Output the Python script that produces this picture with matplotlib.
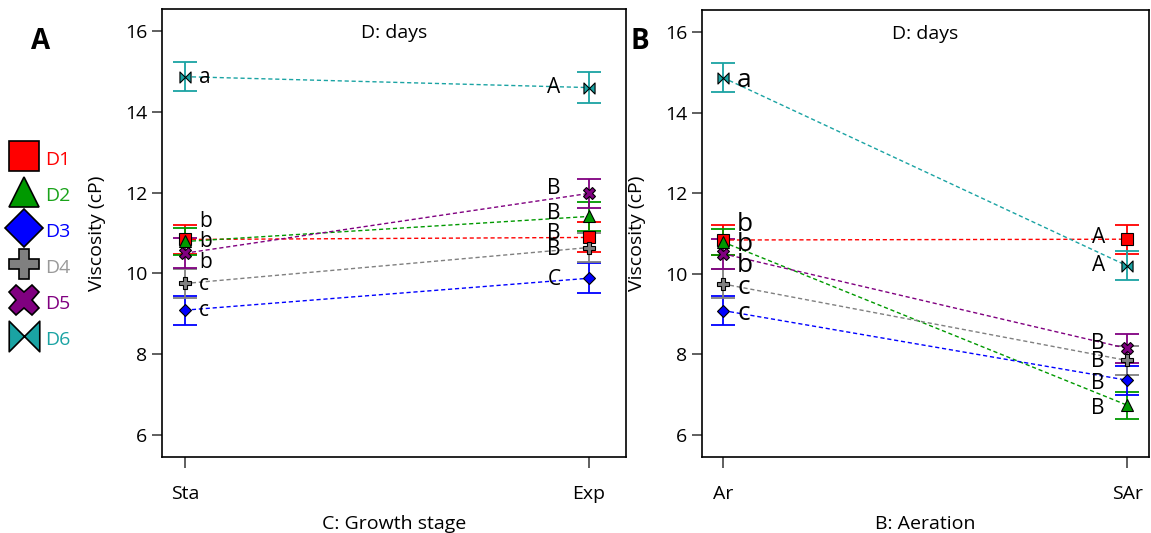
import matplotlib
matplotlib.use("Agg")
import matplotlib.pyplot as plt
import numpy as np
from matplotlib.path import Path
from matplotlib.lines import Line2D

plt.rcParams['font.family'] = ['Open Sans', 'DejaVu Sans']

series = ["D1", "D2", "D3", "D4", "D5", "D6"]
colors = ["#ff0000", "#009900", "#0000ff", "#808080", "#800080", "#1aa3a3"]
text_colors = ["#ff0000", "#1aa31a", "#0000ff", "#999999", "#800080", "#1aa3a3"]

# Panel A: growth stage
xcats_A = ["Sta", "Exp"]
vals_A = {
    "D1": [10.84, 10.89],
    "D2": [10.79, 11.41],
    "D3": [9.09, 9.88],
    "D4": [9.75, 10.64],
    "D5": [10.50, 11.98],
    "D6": [14.87, 14.60],
}
err_A = {
    "D1": [0.37, 0.37],
    "D2": [0.33, 0.36],
    "D3": [0.36, 0.37],
    "D4": [0.36, 0.36],
    "D5": [0.37, 0.36],
    "D6": [0.36, 0.38],
}
letters_A = {
    "D1": ["b", "B"], "D2": ["b", "B"], "D3": ["c", "C"],
    "D4": ["c", "B"], "D5": ["b", "B"], "D6": ["a", "A"],
}

# Panel B: aeration
xcats_B = ["Ar", "SAr"]
vals_B = {
    "D1": [10.84, 10.86],
    "D2": [10.79, 6.74],
    "D3": [9.09, 7.36],
    "D4": [9.75, 7.85],
    "D5": [10.50, 8.15],
    "D6": [14.87, 10.20],
}
err_B = {
    "D1": [0.37, 0.36],
    "D2": [0.33, 0.34],
    "D3": [0.36, 0.36],
    "D4": [0.36, 0.36],
    "D5": [0.37, 0.36],
    "D6": [0.36, 0.36],
}
letters_B = {
    "D1": ["b", "A"], "D2": ["b", "B"], "D3": ["c", "B"],
    "D4": ["c", "B"], "D5": ["b", "B"], "D6": ["a", "A"],
}

# label vertical nudges (data units) to keep letters apart
nudge_A = {"D1": [0.45, 0.1], "D2": [0.0, 0.07], "D3": [-0.02, -0.04],
           "D4": [-0.03, -0.06], "D5": [-0.24, 0.12], "D6": [-0.03, 0.0]}
nudge_B = {"D1": [0.38, 0.05], "D2": [-0.06, -0.08], "D3": [-0.08, -0.07],
           "D4": [-0.1, -0.03], "D5": [-0.3, 0.12], "D6": [-0.08, 0.0]}

bowtie = Path([(-1, 1), (-1, -1), (0, 0), (-1, 1), (1, 1), (1, -1), (0, 0), (1, 1)],
              [Path.MOVETO, Path.LINETO, Path.LINETO, Path.CLOSEPOLY,
               Path.MOVETO, Path.LINETO, Path.LINETO, Path.CLOSEPOLY])
markers = ["s", "^", "D", "P", "X", bowtie]
msizes = [8, 8, 6.5, 8, 8, 8]

fig = plt.figure(figsize=(11.51, 5.33), dpi=100)
axA = fig.add_axes([0.1407, 0.1426, 0.4031, 0.8405])
axB = fig.add_axes([0.6099, 0.1426, 0.3884, 0.8384])


def draw(ax, xcats, vals, errs, letters, nudge, fs, xoffs, xlabel, xlim):
    x = np.arange(len(xcats))
    for i, s in enumerate(series):
        c = colors[i]
        ax.errorbar(x, vals[s], yerr=errs[s], color=c, lw=1.3, capsize=8.5,
                    capthick=1.3, fmt='none', zorder=2)
        ax.plot(x, vals[s], color=c, lw=1.0, ls=(0, (3, 2)), zorder=3)
        ax.plot(x, vals[s], ls='none', marker=markers[i], ms=msizes[i],
                mfc=c, mec='black', mew=0.8, zorder=4)
        for j in range(len(xcats)):
            ax.text(x[j] + xoffs[j], vals[s][j] + nudge[s][j], letters[s][j],
                    fontsize=fs[j], ha='left' if j == 0 else 'right',
                    va='center', zorder=5)
    ax.set_xticks(x)
    ax.set_xticklabels(xcats, fontsize=14)
    ax.set_xlim(*xlim)
    ax.set_ylim(5.455, 16.545)
    ax.set_yticks([6, 8, 10, 12, 14, 16])
    ax.tick_params(axis='y', labelsize=14, length=7, width=1.2, direction='out',
                   color='#444444')
    ax.tick_params(axis='x', length=8, width=1.2, direction='out', pad=12,
                   color='#444444')
    ax.set_xlabel(xlabel, fontsize=14, labelpad=9)
    ax.set_ylabel("Viscosity (cP)", fontsize=14, labelpad=14)
    ax.text(0.5, 0.947, "D: days", transform=ax.transAxes, ha='center',
            va='center', fontsize=14)
    for sp in ax.spines.values():
        sp.set_linewidth(1.2)


draw(axA, xcats_A, vals_A, err_A, letters_A, nudge_A, [15, 15], [0.035, -0.07],
     "C: Growth stage", (-0.057, 1.092))
draw(axB, xcats_B, vals_B, err_B, letters_B, nudge_B, [19, 15], [0.035, -0.055],
     "B: Aeration", (-0.052, 1.054))

fig.text(0.035, 0.922, "A", fontsize=20, fontweight='bold', ha='center', va='center')
fig.text(0.556, 0.922, "B", fontsize=20, fontweight='bold', ha='center', va='center')

# legend on the left
handles = [Line2D([], [], ls='none', marker=markers[i], ms=22 if i != 2 else 19,
                  mfc=colors[i], mec='black', mew=1.2) for i in range(6)]
leg = fig.legend(handles, series, loc='center left', bbox_to_anchor=(-0.004, 0.533),
                 frameon=False, fontsize=14, labelspacing=0.63, handleheight=1.5,
                 handlelength=1.5, handletextpad=0.35, borderpad=0.2)
for t, c in zip(leg.get_texts(), text_colors):
    t.set_color(c)

fig.savefig("out.png", dpi=100)
